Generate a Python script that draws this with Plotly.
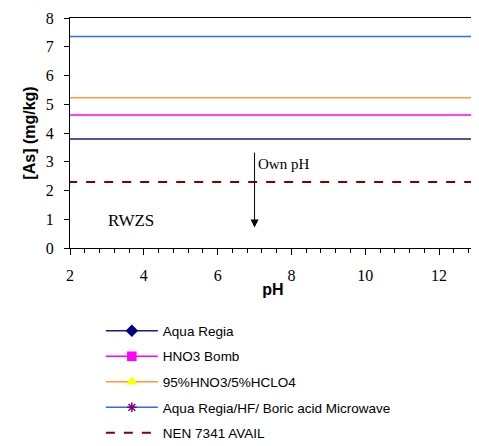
import plotly.graph_objects as go

series_names = ["Aqua Regia", "HNO3 Bomb", "95%HNO3/5%HCLO4",
                "Aqua Regia/HF/ Boric acid Microwave", "NEN 7341 AVAIL"]
series_values = [3.79, 4.63, 5.23, 7.36, 2.30]
line_colors = ["#1a1a80", "#ff00ff", "#ff9933", "#3366ff", "#800000"]
marker_colors = ["#000080", "#ff00ff", "#ffff00", "#800080", "#800000"]
marker_symbols = ["diamond", "square", "triangle-up", "asterisk-open", None]
ph_span = [0, 14]

fig = go.Figure()
for i, name in enumerate(series_names):
    if marker_symbols[i]:
        fig.add_trace(go.Scatter(
            x=ph_span, y=[series_values[i]] * 2, name=name, mode="lines+markers",
            line=dict(color=line_colors[i], width=1.5),
            marker=dict(symbol=marker_symbols[i], color=marker_colors[i], size=8,
                        line=dict(color=marker_colors[i], width=1.5)),
            legendgroup=str(i)))
    else:
        fig.add_trace(go.Scatter(
            x=ph_span, y=[series_values[i]] * 2, name=name, mode="lines",
            line=dict(color=line_colors[i], width=2, dash="dash"),
            legendgroup=str(i)))

fig.add_annotation(x=3.65, y=0.95, text="RWZS", showarrow=False,
                   font=dict(family="Liberation Serif", size=17, color="black"))
fig.add_annotation(x=7.0, y=0.71, ax=7.0, ay=3.37, xref="x", yref="y", axref="x", ayref="y",
                   text="", showarrow=True, arrowhead=2, arrowsize=1.6, arrowwidth=1,
                   arrowcolor="black")
fig.add_annotation(x=7.05, y=2.92, text="Own pH", showarrow=False, xanchor="left",
                   font=dict(family="Liberation Serif", size=15, color="black"))

fig.update_layout(
    width=471, height=438,
    margin=dict(l=62, r=3, t=10, b=198, autoexpand=False),
    paper_bgcolor="white", plot_bgcolor="white",
    showlegend=True,
    legend=dict(x=0.076, y=-0.293, xanchor="left", yanchor="top",
                font=dict(family="Liberation Sans", size=13.5, color="black"),
                itemwidth=52, tracegroupgap=5, bgcolor="rgba(0,0,0,0)"),
    xaxis=dict(range=[2, 13], tick0=2, dtick=2, ticks="outside", ticklen=6,
               tickcolor="black", showline=True, linecolor="black", mirror=True,
               showgrid=False, zeroline=False, automargin=False, ticklabelstandoff=7,
               minor=dict(dtick=0.4, tick0=2, ticks="outside", ticklen=4, tickcolor="black"),
               tickfont=dict(family="Liberation Serif", size=16, color="black"),
               title=dict(text="<b>pH</b>", standoff=0,
                          font=dict(family="Liberation Sans", size=16, color="black"))),
    yaxis=dict(range=[0, 8], dtick=1, ticks="outside", ticklen=5, tickcolor="black",
               showline=True, linecolor="black", mirror=True, showgrid=False, zeroline=False,
               automargin=False, ticklabelstandoff=7,
               tickfont=dict(family="Liberation Serif", size=16, color="black"),
               title=dict(text="<b>[As] (mg/kg)</b>", standoff=6,
                          font=dict(family="Liberation Sans", size=16, color="black"))),
)

fig.write_html("out.html")
